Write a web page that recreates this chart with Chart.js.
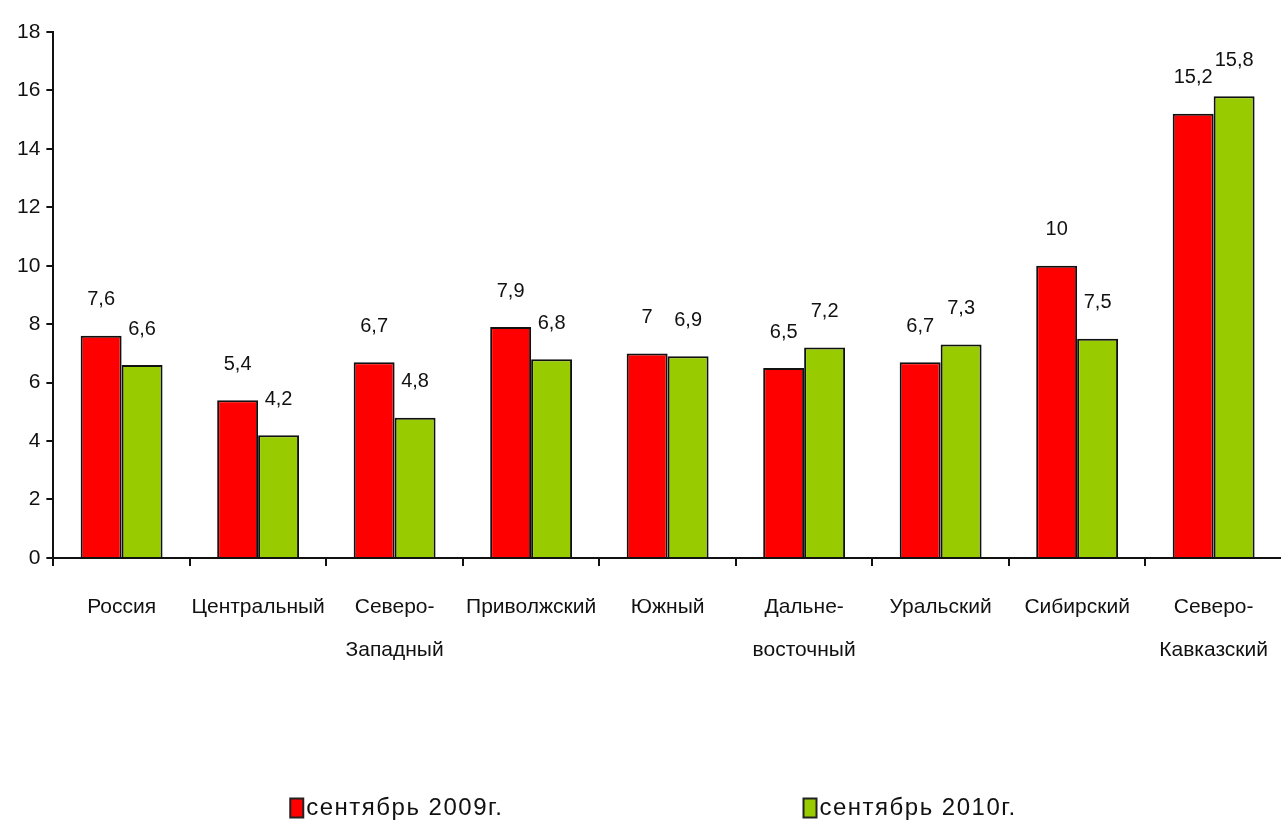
<!DOCTYPE html>
<html><head><meta charset="utf-8">
<script src="https://cdn.jsdelivr.net/npm/chart.js@4.4.1/dist/chart.umd.min.js"></script>
<style>html,body{margin:0;padding:0;background:#fff;overflow:hidden}#wrap{width:1281px;height:825px;position:relative;overflow:hidden}</style>
</head><body><div id="wrap"><canvas id="c" width="1288" height="825"></canvas></div>
<script>
const categories = ["Россия", "Центральный", ["Северо-", "Западный"], "Приволжский", "Южный", ["Дальне-", "восточный"], "Уральский", "Сибирский", ["Северо-", "Кавказский"]];
const series2009 = [7.6, 5.4, 6.7, 7.9, 7, 6.5, 6.7, 10, 15.2];
const series2010 = [6.6, 4.2, 4.8, 6.8, 6.9, 7.2, 7.3, 7.5, 15.8];
const seriesNames = ["сентябрь 2009г.", "сентябрь 2010г."];
const yMin = 0, yMax = 18, yStep = 2;

const FONT = "'Liberation Sans', Arial, sans-serif";
const VISIBLE_W = 1281;
const fmt = v => String(v).replace('.', ',');

const valueLabels = {
  id: 'valueLabels',
  afterDatasetsDraw(chart) {
    const ctx = chart.ctx;
    ctx.save();
    ctx.font = '20px ' + FONT;
    ctx.fillStyle = '#111';
    ctx.textAlign = 'center';
    ctx.textBaseline = 'bottom';
    chart.data.datasets.forEach((ds, i) => {
      chart.getDatasetMeta(i).data.forEach((el, j) => {
        ctx.fillText(fmt(ds.data[j]), el.x, el.y - 26);
      });
    });
    ctx.restore();
  }
};

const bottomLegend = {
  id: 'bottomLegend',
  afterDraw(chart) {
    const ctx = chart.ctx;
    ctx.save();
    ctx.font = '24px ' + FONT;
    if ('letterSpacing' in ctx) ctx.letterSpacing = '1.5px';
    ctx.textBaseline = 'middle';
    ctx.textAlign = 'left';
    const boxW = 13, boxH = 19, gapText = 3, gapItems = 300;
    const items = chart.data.datasets.map(ds => ({label: ds.label, color: ds.backgroundColor, w: boxW + gapText + ctx.measureText(ds.label).width}));
    const total = items.reduce((s, it) => s + it.w, 0) + gapItems * (items.length - 1);
    let x = VISIBLE_W / 2 - total / 2 + 13;
    const y = 808;
    items.forEach(it => {
      ctx.fillStyle = it.color;
      ctx.fillRect(x, y - boxH / 2, boxW, boxH);
      ctx.strokeStyle = '#222';
      ctx.lineWidth = 2;
      ctx.strokeRect(x, y - boxH / 2, boxW, boxH);
      ctx.fillStyle = '#111';
      ctx.fillText(it.label, x + boxW + gapText, y);
      x += it.w + gapItems;
    });
    ctx.restore();
  }
};

new Chart(document.getElementById('c'), {
  type: 'bar',
  data: {
    labels: categories,
    datasets: [
      {label: seriesNames[0], data: series2009, backgroundColor: '#FF0000', borderColor: '#111', borderWidth: 2, borderSkipped: 'bottom'},
      {label: seriesNames[1], data: series2010, backgroundColor: '#99CC00', borderColor: '#111', borderWidth: 2, borderSkipped: 'bottom'}
    ]
  },
  options: {
    responsive: false,
    animation: false,
    devicePixelRatio: 1,
    layout: {padding: {top: 32, right: 0, bottom: 133, left: 11}},
    plugins: {legend: {display: false}, tooltip: {enabled: false}},
    datasets: {bar: {categoryPercentage: 0.6, barPercentage: 1.0}},
    scales: {
      x: {
        grid: {display: true, drawOnChartArea: false, drawTicks: true, tickLength: 8, color: '#111', lineWidth: 2, offset: true},
        border: {display: true, color: '#111', width: 2},
        ticks: {font: {family: FONT, size: 21, lineHeight: 2.05}, color: '#111', padding: 20, maxRotation: 0, autoSkip: false}
      },
      y: {
        min: yMin, max: yMax,
        grid: {display: true, drawOnChartArea: false, drawTicks: true, tickLength: 7, color: '#111', lineWidth: 2},
        border: {display: true, color: '#111', width: 2},
        ticks: {stepSize: yStep, font: {family: FONT, size: 21}, color: '#111', padding: 6}
      }
    }
  },
  plugins: [valueLabels, bottomLegend]
});
</script></body></html>
